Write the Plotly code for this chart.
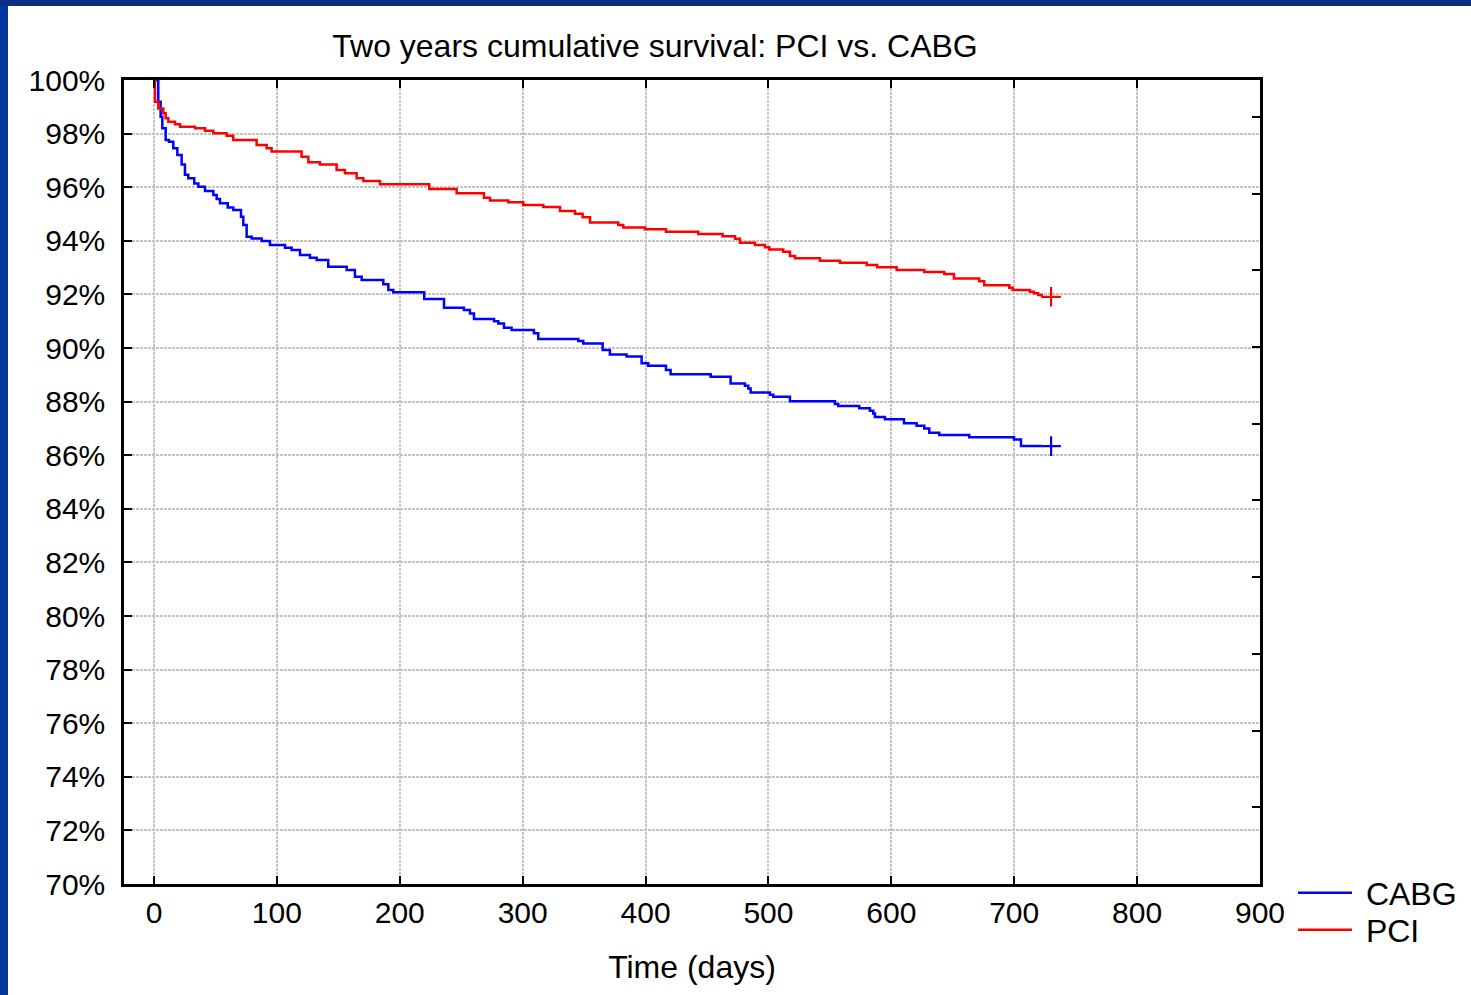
import plotly.graph_objects as go

# ---------------- data ----------------
pci_days = [0, 0.8, 3.5, 7.6, 9.5, 11.7, 17.1, 21.2, 33.4, 41.5, 48.3, 59.1, 64.5, 83.5, 91.7, 95.7,
            120.1, 125.6, 135, 148.6, 155.4, 164.9, 170.4, 183.9, 224, 246.3, 268.5, 273.4, 288.3,
            300.5, 316.8, 330.4, 342.6, 348.8, 354.8, 377.8, 381.9, 399.5, 416.6, 442.9, 462.7,
            472.8, 476.8, 489, 497.2, 500.7, 512, 517.5, 521.6, 541.9, 558.2, 579.9, 588.5, 604.3,
            626.8, 643.1, 650.9, 671.5, 675.6, 696, 698.7, 712.8, 716, 719.5, 722.3]
pci_surv = [100, 99.19, 98.94, 98.76, 98.57, 98.44, 98.35, 98.26, 98.2, 98.11, 98.01, 97.92, 97.76,
            97.57, 97.45, 97.33, 97.14, 96.93, 96.85, 96.64, 96.52, 96.33, 96.23, 96.11, 95.93,
            95.77, 95.61, 95.5, 95.44, 95.34, 95.26, 95.11, 95.01, 94.88, 94.68, 94.59, 94.5, 94.43,
            94.34, 94.25, 94.17, 94.08, 93.93, 93.84, 93.76, 93.68, 93.59, 93.43, 93.35, 93.26,
            93.18, 93.1, 93.01, 92.91, 92.84, 92.76, 92.59, 92.49, 92.34, 92.25, 92.16, 92.1, 92.04,
            91.98, 91.91]

cabg_days = [0, 3.5, 5.4, 6.8, 9.5, 12.2, 15.7, 19, 22.5, 25.2, 27.9, 32.8, 36.1, 41.5, 48.3, 51,
             53.7, 60, 64.5, 70.8, 72.7, 75.4, 79.5, 87.6, 94.4, 106.6, 112, 118.8, 126.9, 132.4,
             141.8, 156.8, 163.5, 169, 186.6, 190.7, 194.7, 219.9, 236, 252.2, 257.1, 260.4, 276.7,
             280.2, 284.8, 291, 309.2, 312.7, 345.3, 349.3, 365.1, 371, 384.6, 396.8, 402.2, 416.6,
             420.4, 453, 469.2, 480.9, 483.6, 485.5, 501.2, 503.9, 517.5, 554.1, 556.8, 573.9,
             582.6, 585.3, 586.7, 594.8, 610.3, 620.6, 626.8, 630.9, 639, 663.4, 699.8, 705.5, 722.3]
cabg_surv = [100, 99.19, 98.63, 98.2, 97.76, 97.7, 97.45, 97.2, 96.85, 96.46, 96.33, 96.14, 96.02,
             95.86, 95.71, 95.56, 95.4, 95.24, 95.15, 94.9, 94.59, 94.15, 94.09, 93.99, 93.84, 93.74,
             93.66, 93.47, 93.37, 93.28, 93.03, 92.91, 92.66, 92.54, 92.38, 92.16, 92.08, 91.83,
             91.5, 91.42, 91.29, 91.08, 91.0, 90.91, 90.76, 90.67, 90.55, 90.34, 90.26, 90.17,
             89.93, 89.76, 89.68, 89.43, 89.34, 89.18, 89.02, 88.93, 88.68, 88.59, 88.49, 88.34,
             88.26, 88.18, 88.01, 87.91, 87.84, 87.75, 87.66, 87.56, 87.43, 87.34, 87.19, 87.1,
             87.0, 86.84, 86.75, 86.67, 86.59, 86.34, 86.34]

censor_day = [730]
pci_censor = [91.91]
cabg_censor = [86.34]

x_ticks = [0, 100, 200, 300, 400, 500, 600, 700, 800, 900]
y_ticks = list(range(70, 101, 2))
y_tick_text = [f"{v}%" for v in y_ticks]

BLUE = "#0000ff"
RED = "#ff0000"
FONT = "Liberation Sans, Arial, sans-serif"
NBSP = "\u00a0"

fig = go.Figure()
fig.add_trace(go.Scatter(x=cabg_days, y=cabg_surv, mode="lines", name=NBSP + "CABG",
                         legend="legend", line=dict(color=BLUE, width=2.5, shape="hv")))
fig.add_trace(go.Scatter(x=pci_days, y=pci_surv, mode="lines", name=NBSP + "PCI",
                         legend="legend2", line=dict(color=RED, width=2.5, shape="hv")))
fig.add_trace(go.Scatter(x=censor_day, y=cabg_censor, mode="markers", showlegend=False,
                         marker=dict(symbol="cross-thin", size=14, line=dict(color=BLUE, width=2.2))))
fig.add_trace(go.Scatter(x=censor_day, y=pci_censor, mode="markers", showlegend=False,
                         marker=dict(symbol="cross-thin", size=14, line=dict(color=RED, width=2.2))))
# helper (empty) trace so the right-hand tick axis is drawn
fig.add_trace(go.Scatter(x=[None], y=[None], yaxis="y2", showlegend=False, hoverinfo="skip"))

legend_common = dict(xanchor="left", yanchor="middle", yref="paper",
                     bgcolor="rgba(0,0,0,0)", borderwidth=0, itemwidth=54,
                     font=dict(family=FONT, size=32, color="black"))

fig.update_layout(
    width=1471, height=995,
    margin=dict(l=124, r=211, t=80, b=111, autoexpand=False),
    paper_bgcolor="white", plot_bgcolor="white",
    font=dict(family=FONT, size=30, color="black"),
    title=dict(text="Two years cumulative survival: PCI vs. CABG",
               x=655 / 1471, xanchor="center", xref="container",
               y=1 - 46 / 995, yanchor="middle", yref="container",
               font=dict(family=FONT, size=32, color="black")),
    xaxis=dict(range=[-24.4, 900], tickvals=x_ticks, ticks="inside", ticklen=8, tickwidth=2,
               tickcolor="black", showline=True, linecolor="black", linewidth=2.5, mirror="ticks",
               showgrid=True, gridcolor="#c4c4c4", gridwidth=1.5, griddash="3px,1px",
               zeroline=False, tickfont=dict(size=30),
               title=dict(text="Time (days)", font=dict(size=32), standoff=28)),
    yaxis=dict(range=[70, 100], tickvals=y_ticks, ticktext=y_tick_text, ticks="inside",
               ticklen=8, tickwidth=2, tickcolor="black", showline=True, linecolor="black",
               linewidth=2.5, mirror=True, showgrid=True, gridcolor="#c4c4c4", gridwidth=1.5,
               griddash="3px,1px", zeroline=False, tickfont=dict(size=30), ticklabelstandoff=10),
    yaxis2=dict(overlaying="y", side="right", range=[0, 10.48], dtick=1, tick0=0,
                ticks="inside", ticklen=8, tickwidth=2, tickcolor="black",
                showticklabels=False, showgrid=False, zeroline=False, showline=False),
    legend=dict(x=(1293 - 124) / 1136, y=(884 - 893) / 804, **legend_common),
    legend2=dict(x=(1293 - 124) / 1136, y=(884 - 930) / 804, **legend_common),
    showlegend=True,
)

# blue slide frame (left strip and top strip)
fig.add_shape(type="rect", xref="paper", yref="paper",
              x0=(0 - 124) / 1136, x1=(8 - 124) / 1136, y0=(884 - 995) / 804, y1=884 / 804,
              fillcolor="#0036a0", line=dict(width=0), layer="above")
fig.add_shape(type="rect", xref="paper", yref="paper",
              x0=(0 - 124) / 1136, x1=(1471 - 124) / 1136, y0=(884 - 6) / 804, y1=884 / 804,
              fillcolor="#0b2d82", line=dict(width=0), layer="above")

fig.write_html("out.html")
